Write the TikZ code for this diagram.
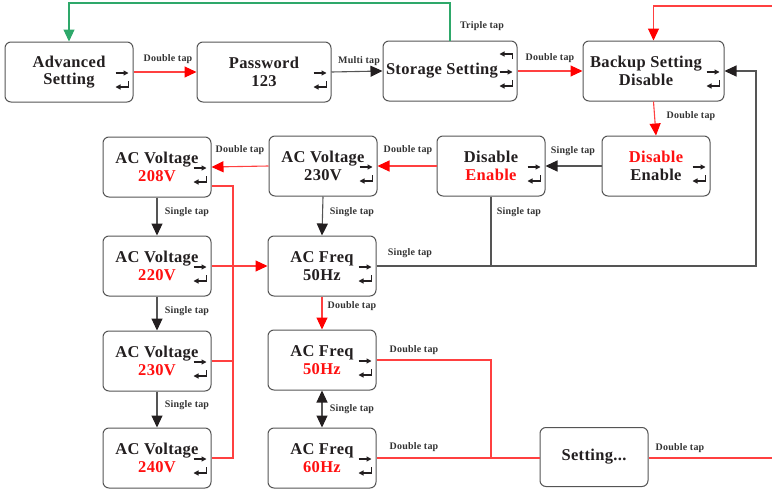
\documentclass[tikz,border=0pt]{standalone}
\usepackage{fontspec}
\setmainfont{Liberation Serif}[LetterSpace=2]
\usetikzlibrary{arrows.meta,calc}
\definecolor{ink}{HTML}{231F20}
\definecolor{frame}{HTML}{555555}
\definecolor{wire}{HTML}{555555}
\definecolor{rline}{HTML}{FF4040}
\definecolor{rtxt}{HTML}{FF1010}
\definecolor{gline}{HTML}{2EA86A}
\definecolor{labc}{HTML}{333333}
\tikzset{
  box/.style={draw=frame, line width=1pt, rounded corners=6pt, fill=white, inner sep=0pt},
  txt/.style={font=\bfseries\fontsize{16.5}{17.5}\selectfont, text=ink, align=center},
  lab/.style={font=\bfseries\fontsize{10}{11}\selectfont, text=labc, inner sep=0pt},
  rtip/.style={-{Triangle[length=12pt,width=11pt,color=red]}},
  btip/.style={-{Triangle[length=12pt,width=11pt,color=ink]}},
  rl/.style={draw=rline, line width=1.1pt},
  bl/.style={draw=wire, line width=1.1pt},
  gl/.style={draw=ink, line width=1.1pt, -{Triangle[length=5pt,width=5pt]}},
}
\newcommand\rd[1]{\textcolor{rtxt}{#1}}
\newcommand\glyphs[1]{%
  \draw[gl] ($(#1.east)+(-18,1)$) -- ++(13,0);
  \draw[gl] ($(#1.east)+(-5,9)$) -- ++(0,6) -- ++(-13,0);
}
\newcommand\mkbox[6]{% name, cx, cy, w, h, text
  \node[box, minimum width=#4pt, minimum height=#5pt] (#1) at (#2,#3) {};
  \node[txt] (#1t) at (#2,#3) {#6};
}
\begin{document}
\begin{tikzpicture}[x=1pt,y=-1pt]
\useasboundingbox (0,0) rectangle (772,490);

% boxes
\mkbox{adv}{69}{72}{128}{60}{Advanced\\Setting}
\mkbox{pw}{264}{72}{134}{60}{Password\\123}
\mkbox{st}{450}{71}{134}{60}{}
\node[txt] (stt) at (442,71) {Storage Setting};
\mkbox{bk}{653.5}{71}{141}{60}{}
\node[txt] (bkt) at (646,71) {Backup Setting\\Disable};
\mkbox{deA}{656}{166}{108}{60}{\rd{Disable}\\Enable}
\mkbox{deB}{491}{166}{108}{60}{Disable\\\rd{Enable}}
\mkbox{vA}{323}{166}{108}{60}{AC Voltage\\230V}
\mkbox{vB}{157}{167}{108}{60}{AC Voltage\\\rd{208V}}
\mkbox{vC}{157}{266}{108}{60}{AC Voltage\\\rd{220V}}
\mkbox{fA}{322}{266}{108}{60}{AC Freq\\50Hz}
\mkbox{vD}{157}{361}{108}{60}{AC Voltage\\\rd{230V}}
\mkbox{fB}{322}{360}{108}{60}{AC Freq\\\rd{50Hz}}
\mkbox{vE}{157}{458}{108}{60}{AC Voltage\\\rd{240V}}
\mkbox{fC}{322}{458}{108}{60}{AC Freq\\\rd{60Hz}}
\mkbox{set}{594}{457}{108}{59}{Setting...}

% glyphs
\glyphs{adv}\glyphs{pw}\glyphs{st}\glyphs{bk}\glyphs{deA}\glyphs{deB}
\glyphs{vA}\glyphs{vB}\glyphs{vC}\glyphs{fA}\glyphs{vD}\glyphs{fB}\glyphs{vE}\glyphs{fC}
\draw[gl] ($(st.east)+(-5,-12)$) -- ++(0,-5) -- ++(-13,0);

% top row
\draw[rl, rtip] (adv.east) -- (pw.west);
\node[lab] (l1) at (168,59) {Double tap};
\draw[bl, btip] (pw.east) -- (st.west);
\node[lab] (l2) at (359,61) {Multi tap};
\draw[rl, rtip] (st.east) -- (bk.west);
\node[lab] (l3) at (550,58) {Double tap};

% green return
\coordinate (g1) at (450,3);
\draw[draw=gline, line width=1.1pt, -{Triangle[length=12pt,width=11pt,color=gline]}] (st.north) -- (g1) -| (adv.north);
\node[lab] (l4) at (482,26) {Triple tap};

% red entry from right
\coordinate (rin) at (772,6);
\draw[rl, rtip] (rin) -| (bk.north);

% backup down
\draw[rl, rtip] (bk.south) -- (deA.north);
\node[lab] (l5) at (691,116) {Double tap};

% row 2
\draw[bl, btip] (deA.west) -- (deB.east);
\node[lab] (l6) at (573,151) {Single tap};
\draw[rl, rtip] (deB.west) -- (vA.east);
\node[lab] (l7) at (408,150) {Double tap};
\draw[rl, rtip] (vA.west) -- (vB.east);
\node[lab] (l8) at (240,150) {Double tap};

% verticals
\draw[bl, btip] (vA.south) -- (fA.north);
\node[lab] (l9) at (352,212) {Single tap};
\draw[bl, btip] (vB.south) -- (vC.north);
\node[lab] (l10) at (187,212) {Single tap};
\draw[bl, btip] (vC.south) -- (vD.north);
\node[lab] (l11) at (187,311) {Single tap};
\draw[bl, btip] (vD.south) -- (vE.north);
\node[lab] (l12) at (187,405) {Single tap};

% red bus on the left
\coordinate (bt) at (233,186);
\coordinate (bb) at (233,458);
\draw[rl] ([yshift=-19pt]vB.east) -- (bt) -- (bb) -- (vE.east);
\draw[rl] (vD.east) -- (vD.east -| bt);
\draw[rl, rtip] (vC.east) -- (fA.west);

% loop back to backup
\coordinate (lc) at (756,266);
\draw[bl, btip] (fA.east) -- (lc) |- (bk.east);
\draw[bl] (deB.south) -- (deB.south |- lc);
\node[lab] (l13) at (410,253) {Single tap};
\node[lab] (l14) at (519,212) {Single tap};

% freq column
\draw[rl, rtip] (fA.south) -- (fB.north);
\node[lab] (l15) at (352,306) {Double tap};
\draw[bl, {Triangle[length=12pt,width=11pt,color=ink]}-{Triangle[length=12pt,width=11pt,color=ink]}] (fB.south) -- (fC.north);
\node[lab] (l16) at (352,409) {Single tap};

% right red bus
\coordinate (rt) at (491,360);
\draw[rl] (fB.east) -- (rt) -- (rt |- fC.east);
\draw[rl] (fC.east) -- (fC.east -| set.west);
\node[lab] (l17) at (414,350) {Double tap};
\node[lab] (l18) at (414,447) {Double tap};
\coordinate (rout) at (772,458);
\draw[rl] (set.east |- rout) -- (rout);
\node[lab] (l19) at (680,448) {Double tap};
\end{tikzpicture}
\end{document}
